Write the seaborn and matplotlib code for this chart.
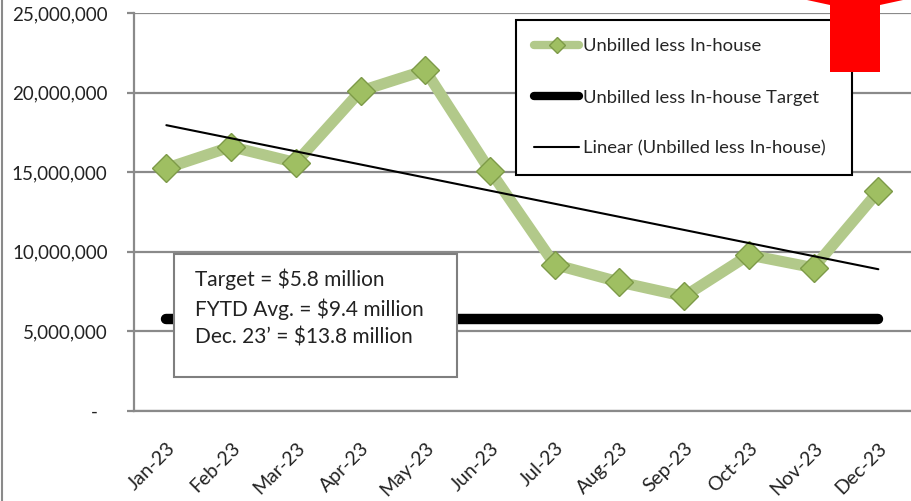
import numpy as np
import matplotlib
matplotlib.use("Agg")
import matplotlib.pyplot as plt
from matplotlib.lines import Line2D
from matplotlib.patches import Rectangle, Polygon
import pandas as pd
import seaborn as sns

# data
months = ["Jan-23", "Feb-23", "Mar-23", "Apr-23", "May-23", "Jun-23",
          "Jul-23", "Aug-23", "Sep-23", "Oct-23", "Nov-23", "Dec-23"]
unbilled = [15.25e6, 16.6e6, 15.6e6, 20.1e6, 21.4e6, 15.1e6,
            9.2e6, 8.1e6, 7.2e6, 9.8e6, 9.0e6, 13.8e6]
target = [5.8e6] * 12
yticks = [0, 5e6, 10e6, 15e6, 20e6, 25e6]
ytick_labels = ["-  ", "5,000,000", "10,000,000", "15,000,000", "20,000,000", "25,000,000"]
note = "Target = $5.8 million\nFYTD Avg. = $9.4 million\nDec. 23\u2019 = $13.8 million"

df = pd.DataFrame({"pos": np.arange(len(months)), "month": months,
                   "unbilled": unbilled, "target": target})
# linear trend line like excel
slope, icpt = np.polyfit(df["pos"], df["unbilled"], 1)
df["trend"] = slope * df["pos"] + icpt

sns.set_style("white")
plt.rcParams["font.family"] = ["Lato", "DejaVu Sans"]

fig = plt.figure(figsize=(9.12, 5.01), dpi=100)
ax = fig.add_axes([134 / 912, 90 / 501, 778 / 912, 398 / 501])

grid_c = "#8a8a8a"
green_line = "#b2c98a"
green_mark = "#9fbf62"

sns.lineplot(data=df, x="pos", y="target", ax=ax, color="black", lw=7.5,
             solid_capstyle="round", zorder=3)
sns.lineplot(data=df, x="pos", y="unbilled", ax=ax, color=green_line, lw=8,
             marker="D", markersize=14, markerfacecolor=green_mark,
             markeredgecolor="#7d9a48", markeredgewidth=1, zorder=4)
sns.lineplot(data=df, x="pos", y="trend", ax=ax, color="black", lw=1.5, zorder=5)

ax.set_xlim(-0.5, 11.52)
ax.set_ylim(0, 25e6)
ax.set_yticks(yticks)
ax.set_yticklabels(ytick_labels)
ax.set_xticks(df["pos"])
ax.set_xticklabels(months, rotation=45, ha="right", rotation_mode="anchor")
ax.set_xlabel("")
ax.set_ylabel("")

ax.grid(axis="y", color=grid_c, lw=1.6)
ax.set_axisbelow(True)
for s in ["top", "right"]:
    ax.spines[s].set_visible(False)
for s in ["left", "bottom"]:
    ax.spines[s].set_color(grid_c)
    ax.spines[s].set_linewidth(1.6)
ax.tick_params(axis="y", left=True, length=5, width=1.6, color=grid_c,
               pad=14, labelsize=13.5, labelcolor="#222222")
ax.tick_params(axis="x", bottom=False, pad=17, labelsize=14, labelcolor="#222222")

# legend
handles = [
    Line2D([], [], color=green_line, lw=6, marker="D", markersize=8,
           markerfacecolor=green_mark, markeredgecolor="#7d9a48"),
    Line2D([], [], color="black", lw=6, solid_capstyle="round"),
    Line2D([], [], color="black", lw=1.5),
]
labels = ["Unbilled less In-house", "Unbilled less In-house Target",
          "Linear (Unbilled less In-house)"]
lx0 = (516 - 134) / 778
ly1 = (411 - 20) / 398
leg = ax.legend(handles, labels, loc="upper left", mode="expand",
                bbox_to_anchor=(lx0, ly1 - 0.1, (852 - 516) / 778, 0.1),
                borderaxespad=0, fancybox=False, frameon=True,
                fontsize=13.3, handlelength=2.4, handletextpad=0.25,
                labelspacing=1.9, borderpad=1.0, framealpha=1)
leg.get_frame().set_edgecolor("black")
leg.get_frame().set_linewidth(1.5)
leg.set_zorder(6)

# note box
ax.add_patch(Rectangle(((174 - 134) / 778, (411 - 377) / 398), 283 / 778, 123 / 398,
                       transform=ax.transAxes, facecolor="white",
                       edgecolor="#7f7f7f", lw=1.5, zorder=6))
ax.text((195 - 134) / 778, (411 - 268) / 398, note, transform=ax.transAxes,
        va="top", ha="left", fontsize=15, color="#222222", linespacing=1.5, zorder=7)

# red arrow at top right, mostly cut off
arrow_px = [(807, 0), (903, 0), (880, 5), (880, 72), (830, 72), (830, 5)]
fig.add_artist(Polygon([(x / 912, 1 - y / 501) for x, y in arrow_px],
                       closed=True, facecolor="#ff0000", edgecolor="none",
                       transform=fig.transFigure, zorder=10))

# frame edge at the left
fig.add_artist(Line2D([2.5 / 912, 2.5 / 912], [0, 1], color="#8a8a8a", lw=1.5,
                      transform=fig.transFigure))

fig.savefig("out.png", dpi=100)
